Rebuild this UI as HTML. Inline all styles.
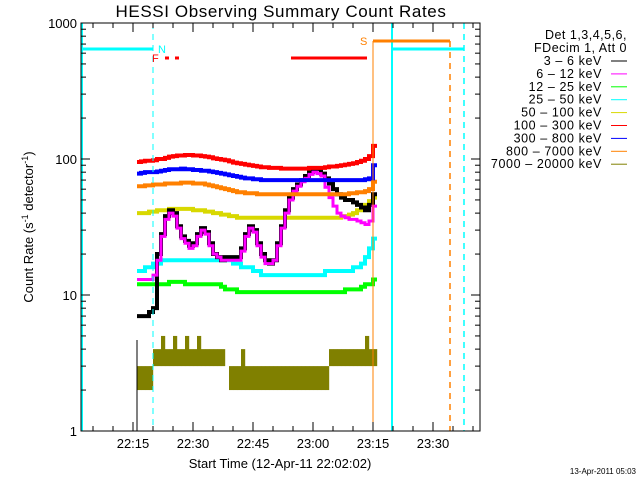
<!DOCTYPE html>
<html><head><meta charset="utf-8">
<style>
html,body{margin:0;padding:0;background:#fff;}
svg{display:block;font-family:"Liberation Sans",sans-serif;}
</style></head>
<body>
<svg id="chart" width="640" height="480" viewBox="0 0 640 480" xmlns="http://www.w3.org/2000/svg">
  <rect x="0" y="0" width="640" height="480" fill="#fff"/>
  <text x="281" y="17" font-size="17" text-anchor="middle" fill="#000" letter-spacing="0.6">HESSI Observing Summary Count Rates</text>
  <g id="marks"></g>
  <g id="axes"></g>
  <text x="280" y="468" font-size="13" text-anchor="middle">Start Time (12-Apr-11 22:02:02)</text>
  <text transform="translate(33,227) rotate(-90)" font-size="13" text-anchor="middle">Count Rate (s<tspan baseline-shift="super" font-size="9">-1</tspan> detector<tspan baseline-shift="super" font-size="9">-1</tspan>)</text>
  <text x="636" y="474" font-size="8" text-anchor="end">13-Apr-2011 05:03</text>
  <g id="legend"></g>
</svg>
<script>
// minutes after 22:00, one value per minute from 16 to 75
const minutes = [];
for (let m = 16; m <= 75; m++) minutes.push(m);
const red = [95,96,97,97,98,100,100,102,104,105,106,106,107,107,106,106,105,104,103,101,100,99,98,96,94,93,92,91,90,89,88,87,87,86,86,86,85,85,85,85,85,85,85,86,86,86,86,87,88,88,89,90,91,92,93,95,97,100,105,125];
const blue = [78,79,80,80,80,81,82,83,84,84,84,85,84,84,83,83,82,82,81,80,79,78,77,76,75,74,73,72,72,71,71,70,70,70,70,70,70,70,70,70,70,70,70,70,70,70,70,70,70,70,70,70,70,70,70,70,70,71,72,90];
const orange = [63,63,64,64,65,65,65,66,66,66,66,67,67,67,66,66,66,65,64,63,62,61,60,59,58,57,57,56,56,56,55,55,55,55,55,55,55,55,55,55,55,55,55,55,55,55,55,55,55,55,55,55,55,56,56,57,57,58,60,68];
const yellow = [40,40,40,41,41,42,42,42,43,43,43,43,43,43,42,42,42,41,41,40,40,39,39,38,38,37,37,37,37,37,37,37,37,37,37,37,37,37,37,37,37,37,37,37,37,37,37,37,37,37,37,38,38,39,40,42,44,46,49,52];
const cyan = [15,15,16,16,17,17,18,18,18,18,18,18,18,18,18,18,18,18,18,18,18,18,18,18,17,17,16,16,16,15,15,14,14,14,14,14,14,14,14,14,14,14,14,14,14,14,14,15,15,15,15,15,15,15,16,16,17,19,22,26];
const green = [12,12,12,12,12,12,12,12,12.5,12.5,12.5,12.5,12,12,12,12,12,12,12,12,12,11.5,11,11,11,10.5,10.5,10.5,10.5,10.5,10.5,10.5,10.5,10.5,10.5,10.5,10.5,10.5,10.5,10.5,10.5,10.5,10.5,10.5,10.5,10.5,10.5,10.5,10.5,10.5,10.5,10.5,11,11,11,11,11.5,12,12,13];
const black = [7,7,7,7.5,8,20,28,38,42,40,32,27,25,23,24,28,31,29,24,20,19,18,19,19,19,19,22,28,32,30,24,20,18,17,18,24,32,42,52,60,65,70,75,80,85,84,78,72,66,60,55,52,50,50,48,46,44,42,46,55];
const magenta = [13,13,13,13,14,18,27,36,40,38,31,26,24,22,23,27,30,28,23,20,19,18,18,18,18,18,21,27,31,29,23,19,17,17,18,23,31,40,50,58,63,68,72,77,80,78,75,62,52,45,40,38,37,36,36,35,34,33,35,45];
const oliveLow = [2,2,2,2,3,3,3,3,3,3,3,3,3,3,3,3,3,3,3,3,3,3,3,2,2,2,2,2,2,2,2,2,2,2,2,2,2,2,2,2,2,2,2,2,2,2,2,2,3,3,3,3,3,3,3,3,3,3,3,3];
const oliveHigh = [3,3,3,3,4,4,5,4,4,5,4,4,5,4,4,5,4,4,4,4,4,4,3,3,3,3,4,3,3,3,3,3,3,3,3,3,3,3,3,3,3,3,3,3,3,3,3,3,4,4,4,4,4,4,4,4,4,5,4,4];
const yTickLabels = ["1","10","100","1000"];
const xTickLabels = ["22:15","22:30","22:45","23:00","23:15","23:30"];
const legendLabels = ["3 - 6 keV","6 - 12 keV","12 - 25 keV","25 - 50 keV","50 - 100 keV","100 - 300 keV","300 - 800 keV","800 - 7000 keV","7000 - 20000 keV"];
const legendColors = ["#000000","#ff00ff","#00ff00","#00ffff","#d8d800","#ff0000","#0000ff","#ff8000","#808000"];

const L=81,R=480,T=23,B=431;
const NS="http://www.w3.org/2000/svg";
function x(m){return 133+(m-15)*4;}
function y(v){return B-Math.log10(v)*136;}
function el(tag,attrs,parent){const e=document.createElementNS(NS,tag);for(const k in attrs)e.setAttribute(k,attrs[k]);parent.appendChild(e);return e;}
const marks=document.getElementById('marks'), axes=document.getElementById('axes'), legend=document.getElementById('legend');

// olive bands
for(let i=0;i<minutes.length;i++){
  const r=el('rect',{x:x(minutes[i]),y:y(oliveHigh[i]),width:4.2,height:y(oliveLow[i])-y(oliveHigh[i]),fill:'#808000'},marks);
  
  
}
function series(vals,color,name,w){
  let d='';
  for(let i=0;i<minutes.length;i++){
    const xa=x(minutes[i]), xb=x(minutes[i])+4, yy=y(vals[i]);
    d+=(i===0?'M':'L')+xa+','+yy+' L'+xb+','+yy+' ';
  }
  const p=el('path',{d:d,fill:'none',stroke:color,'stroke-width':w},marks);
  
  
}
series(green,'#00ff00','series-12-25kev',4);
series(cyan,'#00ffff','series-25-50kev',4);
series(yellow,'#d8d800','series-50-100kev',4);
series(black,'#000000','series-3-6kev',4);
series(magenta,'#ff00ff','series-6-12kev',3);
series(orange,'#ff8000','series-800-7000kev',4);
series(blue,'#0000ff','series-300-800kev',4);
series(red,'#ff0000','series-100-300kev',4);

function line(x1,y1,x2,y2,c,w,dash,name){
  const l=el('line',{x1:x1,y1:y1,x2:x2,y2:y2,stroke:c,'stroke-width':w},marks);
  if(dash)l.setAttribute('stroke-dasharray',dash);
  
  
}
line(137,340,137,B,'#000',1,null,'data-start-line');
line(82,T,82,B,'#00ffff',2,null,'night-end-line');
line(153,T,153,B,'#00ffff',1,'6,5','night-start-dash');
line(392,T,392,B,'#00ffff',2,null,'night-line');
line(464,T,464,B,'#00ffff',1.5,'6,5','night-end-dash');
line(373,41,373,B,'#ff8000',1,null,'saa-start-line');
line(450,41,450,B,'#ff8000',1.5,'6,5','saa-end-dash');
line(81,49,153,49,'#00ffff',3,null,'night-bar');
line(392,49,464,49,'#00ffff',3,null,'night-bar-2');
line(373,41,450,41,'#ff8000',3,null,'saa-bar');
line(165,58,169,58,'#ff0000',3,null,'flare-dash');
line(175,58,179,58,'#ff0000',3,null,'flare-dash-2');
line(291,58,367,58,'#ff0000',3,null,'flare-bar');
el('text',{x:158,y:53,fill:'#00ffff','font-size':11,},marks).textContent='N';
el('text',{x:152,y:62,fill:'#ff0000','font-size':11,},marks).textContent='F';
el('text',{x:360,y:45,fill:'#ff8000','font-size':11,},marks).textContent='S';

el('rect',{x:L,y:T,width:R-L,height:B-T,fill:'none',stroke:'#000','stroke-width':1,},axes);
for(let dec=0;dec<3;dec++){
  for(let k=1;k<10;k++){
    const yy=y(k*Math.pow(10,dec));
    const len=k===1?9:5;
    el('line',{x1:L,y1:yy,x2:L+len,y2:yy,stroke:'#000'},axes);
    el('line',{x1:R,y1:yy,x2:R-len,y2:yy,stroke:'#000'},axes);
  }
}
yTickLabels.forEach((t,i)=>{
  const tx=el('text',{x:L-4,y:y(Math.pow(10,i))+5,'font-size':13,'text-anchor':'end'},axes);
  
  
  tx.textContent=t;
});
for(let m=5;m<=100;m+=5){
  const xx=x(m); if(xx<L||xx>R)continue;
  const len=(m%15===0)?9:5;
  el('line',{x1:xx,y1:B,x2:xx,y2:B-len,stroke:'#000'},axes);
  el('line',{x1:xx,y1:T,x2:xx,y2:T+len,stroke:'#000'},axes);
}
xTickLabels.forEach((t,i)=>{
  const tx=el('text',{x:x(15+i*15),y:448,'font-size':13,'text-anchor':'middle'},axes);
  
  
  tx.textContent=t;
});
el('text',{x:627,y:39,'font-size':12.5,'text-anchor':'end','letter-spacing':0.5},legend).textContent='Det 1,3,4,5,6,';
el('text',{x:627,y:52,'font-size':12.5,'text-anchor':'end','letter-spacing':0.5},legend).textContent='FDecim 1, Att 0';
legendLabels.forEach((t,i)=>{
  const yy=65+i*12.9;
  const tx=el('text',{x:602,y:yy,'font-size':12.5,'text-anchor':'end','letter-spacing':0.6},legend);
  
  
  tx.textContent=t.replace(/ - /,'  –  ');
  el('line',{x1:611,y1:yy-4,x2:627,y2:yy-4,stroke:legendColors[i],'stroke-width':1},legend);
});
</script>
</body></html>
